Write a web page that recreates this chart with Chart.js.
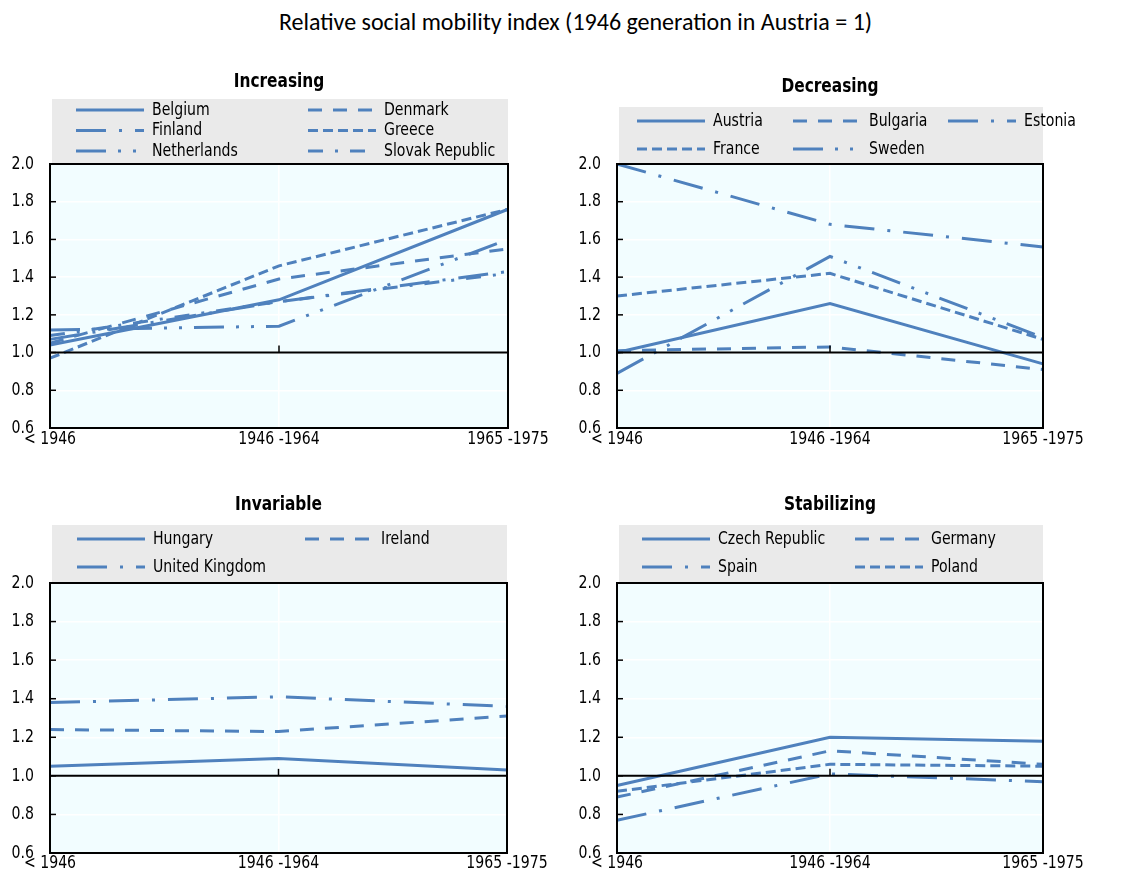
<!DOCTYPE html>
<html>
<head>
<meta charset="utf-8">
<script src="https://cdn.jsdelivr.net/npm/chart.js@4"></script>
<style>
  body { margin: 0; background: #fff; }
  #wrap { position: relative; width: 1129px; height: 879px; }
  #title {
    position: absolute; top: 7px; left: 11px; width: 1129px; text-align: center;
    font-family: Carlito, Lato, sans-serif; font-size: 24px; color: #000;
  }
  canvas { position: absolute; }
</style>
</head>
<body>
<div id="wrap">
  <div id="title">Relative social mobility index (1946 generation in Austria = 1)</div>
  <canvas id="c1" width="560" height="410" style="left:0;top:60px"></canvas>
  <canvas id="c2" width="569" height="410" style="left:560px;top:60px"></canvas>
  <canvas id="c3" width="560" height="399" style="left:0;top:480px"></canvas>
  <canvas id="c4" width="569" height="399" style="left:560px;top:480px"></canvas>
</div>
<script>
const categories = ['< 1946', '1946 -1964', '1965 -1975'];

const increasingNames = ['Belgium', 'Denmark', 'Finland', 'Greece', 'Netherlands', 'Slovak Republic'];
const increasingValues = [
  [1.04, 1.28, 1.76],
  [1.05, 1.39, 1.55],
  [1.07, 1.27, 1.43],
  [0.97, 1.46, 1.76],
  [1.12, 1.14, 1.60],
  [1.09, 1.27, 1.42]
];

const decreasingNames = ['Austria', 'Bulgaria', 'Estonia', 'France', 'Sweden'];
const decreasingValues = [
  [1.00, 1.26, 0.94],
  [1.01, 1.03, 0.91],
  [2.00, 1.68, 1.56],
  [1.30, 1.42, 1.07],
  [0.89, 1.51, 1.08]
];

const invariableNames = ['Hungary', 'Ireland', 'United Kingdom'];
const invariableValues = [
  [1.05, 1.09, 1.03],
  [1.24, 1.23, 1.31],
  [1.38, 1.41, 1.36]
];

const stabilizingNames = ['Czech Republic', 'Germany', 'Spain', 'Poland'];
const stabilizingValues = [
  [0.95, 1.20, 1.18],
  [0.89, 1.13, 1.06],
  [0.77, 1.01, 0.97],
  [0.92, 1.06, 1.05]
];

// line styles, one per series
const dashes = {
  solid: [],
  dash: [14, 11],
  longDashDot: [30, 13, 3, 13],
  longDashDotDot: [30, 12, 3, 12, 3, 12],
  shortDash: [10, 5],
  dashDot: [15, 12, 3, 12]
};
const increasingStyles = ['solid', 'dash', 'longDashDot', 'shortDash', 'longDashDotDot', 'dashDot'];
const decreasingStyles = ['solid', 'dash', 'longDashDot', 'shortDash', 'longDashDotDot'];
const invariableStyles = ['solid', 'dash', 'longDashDot'];
const stabilizingStyles = ['solid', 'dash', 'longDashDot', 'shortDash'];

const FONT = '"DejaVu Sans Condensed", "DejaVu Sans", sans-serif';
const NARROW = 0.87; // squeeze to look like a narrow face
const blue = 'rgb(79, 129, 189)';

function line(ctx, x1, y1, x2, y2) {
  ctx.beginPath();
  ctx.moveTo(x1, y1);
  ctx.lineTo(x2, y2);
  ctx.stroke();
}

function text(ctx, str, x, y, align, font, sx) {
  ctx.save();
  ctx.font = font;
  ctx.fillStyle = '#000';
  ctx.textAlign = align;
  ctx.textBaseline = 'middle';
  ctx.translate(x, y);
  ctx.scale(sx || NARROW, 1);
  ctx.fillText(str, 0, 0);
  ctx.restore();
}

const panelDeco = {
  id: 'panelDeco',
  beforeDraw(chart, args, o) {
    const { ctx, chartArea: a } = chart;
    ctx.save();
    ctx.fillStyle = '#F2FDFF';
    ctx.fillRect(a.left, a.top, a.width, a.height);

    text(ctx, o.title, (a.left + a.right) / 2, o.titleY, 'center', 'bold 19px ' + FONT, 0.9);

    ctx.fillStyle = '#EAEAEA';
    ctx.fillRect(a.left + 2, o.legendTop, a.right - a.left - 2, a.top - o.legendTop);

    chart.data.datasets.forEach((ds, i) => {
      const col = i % o.cols.length;
      const row = Math.floor(i / o.cols.length);
      const x = a.left + o.cols[col];
      const y = o.legendTop + o.firstRow + row * o.rowGap;
      ctx.strokeStyle = ds.borderColor;
      ctx.lineWidth = 3;
      ctx.setLineDash(ds.borderDash);
      line(ctx, x, y, x + 68, y);
      ctx.setLineDash([]);
      text(ctx, ds.label, x + 76, y, 'left', '18px ' + FONT);
    });
    ctx.restore();
  },
  afterDatasetsDraw(chart, args, o) {
    const { ctx, chartArea: a, scales: { x, y } } = chart;
    ctx.save();
    ctx.strokeStyle = '#000';
    const y1 = y.getPixelForValue(1);
    ctx.lineWidth = 2;
    line(ctx, a.left, y1, a.right, y1);
    ctx.lineWidth = 1.5;
    for (let i = 1; i < categories.length - 1; i++) {
      const xp = x.getPixelForValue(i);
      line(ctx, xp, y1, xp, y1 - 7);
    }
    y.ticks.forEach(t => {
      const yp = y.getPixelForValue(t.value);
      line(ctx, a.left, yp, a.left + 6, yp);
      text(ctx, Number(t.value).toFixed(1), a.left - 16, yp, 'right', '18px ' + FONT);
    });
    categories.forEach((c, i) => {
      text(ctx, c, x.getPixelForValue(i), a.bottom + o.xLabelGap, 'center', '18px ' + FONT);
    });
    ctx.lineWidth = 2;
    ctx.strokeRect(a.left, a.top, a.width, a.height);
    ctx.restore();
  }
};

function makePanel(id, names, values, styles, deco, box) {
  const datasets = names.map((name, i) => ({
    label: name,
    data: values[i],
    borderColor: blue,
    borderWidth: 3,
    borderDash: dashes[styles[i]],
    pointRadius: 0,
    tension: 0,
    fill: false
  }));

  return new Chart(document.getElementById(id), {
    type: 'line',
    data: { labels: categories, datasets },
    plugins: [panelDeco],
    options: {
      responsive: false,
      animation: false,
      events: [],
      layout: { padding: { left: 0, top: box.top, right: box.right, bottom: box.bottom } },
      plugins: {
        legend: { display: false },
        tooltip: { enabled: false },
        panelDeco: deco
      },
      scales: {
        x: {
          offset: false,
          afterFit(scale) { scale.height = box.xh; },
          grid: { color: '#fff', lineWidth: 1.5, drawTicks: false },
          border: { display: false },
          ticks: { display: false }
        },
        y: {
          min: 0.6,
          max: 2.0,
          afterFit(scale) { scale.width = box.yw; },
          grid: { color: '#fff', lineWidth: 1.5, drawTicks: false },
          border: { display: false },
          ticks: { display: false, stepSize: 0.2 }
        }
      }
    }
  });
}

makePanel('c1', increasingNames, increasingValues, increasingStyles,
  { title: 'Increasing', titleY: 22, legendTop: 39, firstRow: 11, rowGap: 20.5, cols: [26, 258], xLabelGap: 11 },
  { top: 104, right: 52, bottom: 12, xh: 30, yw: 50 });

makePanel('c2', decreasingNames, decreasingValues, decreasingStyles,
  { title: 'Decreasing', titleY: 27, legendTop: 47, firstRow: 14, rowGap: 28, cols: [20, 176, 331], xLabelGap: 11 },
  { top: 104, right: 86, bottom: 12, xh: 30, yw: 57 });

makePanel('c3', invariableNames, invariableValues, invariableStyles,
  { title: 'Invariable', titleY: 25, legendTop: 45, firstRow: 14, rowGap: 28, cols: [27, 255], xLabelGap: 10 },
  { top: 103, right: 53, bottom: 0, xh: 26, yw: 50 });

makePanel('c4', stabilizingNames, stabilizingValues, stabilizingStyles,
  { title: 'Stabilizing', titleY: 25, legendTop: 45, firstRow: 14, rowGap: 28, cols: [25, 238], xLabelGap: 10 },
  { top: 103, right: 86, bottom: 0, xh: 26, yw: 57 });
</script>
</body>
</html>
